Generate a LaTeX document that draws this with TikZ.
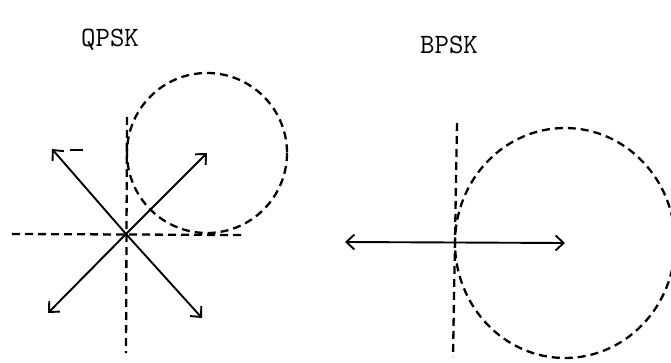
\documentclass[tikz,border=0pt]{standalone}
\usetikzlibrary{arrows.meta}
\begin{document}
\begin{tikzpicture}[x=1pt,y=-1pt,
  axis/.style={line width=2.3pt,dash pattern=on 8pt off 5pt},
  vec/.style={line width=1.9pt,-{Straight Barb[length=8pt,width=15pt]}},
  dvec/.style={line width=1.9pt,{Straight Barb[length=8pt,width=15pt]}-{Straight Barb[length=8pt,width=15pt]}},
  lab/.style={font=\ttfamily\fontsize{28}{28}\selectfont,inner sep=0pt}]
\useasboundingbox (0,0) rectangle (671,363);
\clip (0,0) rectangle (671,363);
% labels
\node[lab] (lq) at (110,40) {QPSK};
\node[lab] (lb) at (449,45) {BPSK};
% ---------- QPSK ----------
\coordinate (qo) at (126,234);
\coordinate (qne) at (207,153);
\coordinate (qnw) at (52,149);
\coordinate (qsw) at (48,313);
\coordinate (qse) at (202,318);
\coordinate (qxl) at (12,234);
\coordinate (qxr) at (242,235);
\coordinate (qyt) at (127,117);
\coordinate (qyb) at (126,353);
\draw[axis] (qxl) -- (qxr);
\draw[axis] (qyt) -- (qyb);
\draw[axis] (qne) circle[radius=80];
\draw[vec] (qo) -- (qne);
\draw[vec] (qo) -- (qnw);
\draw[vec] (qo) -- (qsw);
\draw[vec] (qo) -- (qse);
\coordinate (qd1) at (70,150);
\coordinate (qd2) at (83,150);
\draw[line width=1.6pt] (qd1) -- (qd2);
% ---------- BPSK ----------
\coordinate (bo) at (455,242);
\coordinate (bl) at (345,242);
\coordinate (br) at (565,243);
\coordinate (byt) at (457,123);
\coordinate (byb) at (453,357);
\draw[axis] (byt) -- (byb);
\draw[axis] (br) ellipse[x radius=110,y radius=115];
\draw[dvec] (bl) -- (br);
\end{tikzpicture}
\end{document}
